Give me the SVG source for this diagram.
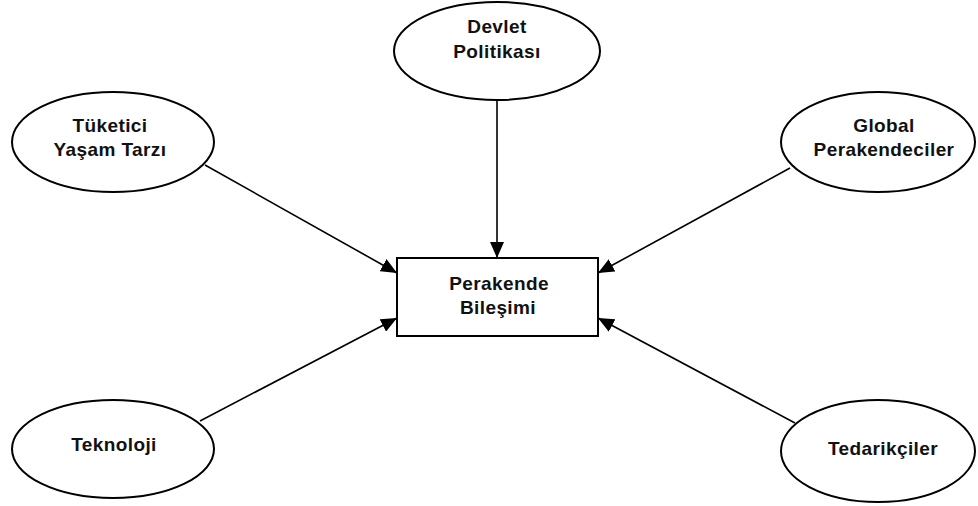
<svg xmlns="http://www.w3.org/2000/svg" width="978" height="506" viewBox="0 0 978 506">
<style>
.node ellipse,.node rect{fill:#fff;stroke:#000;stroke-width:2}
.node text{font-family:"Liberation Sans",Arial,sans-serif;font-weight:bold;font-size:19px;letter-spacing:0.4px;text-anchor:middle;fill:#111}
.edges line{stroke:#000;stroke-width:1.6;marker-end:url(#arr)}
</style>
<defs>
<marker id="arr" markerUnits="userSpaceOnUse" markerWidth="16" markerHeight="14" refX="16" refY="7" orient="auto">
<path d="M0,0 L16,7 L0,14 Z" fill="#000"/>
</marker>
</defs>
<rect width="978" height="506" fill="#fff"/>
<g class="edges">
<line x1="497" y1="100" x2="497" y2="258"/>
<line x1="205" y1="165" x2="397" y2="273"/>
<line x1="200" y1="421" x2="397" y2="318"/>
<line x1="790" y1="168" x2="598" y2="273"/>
<line x1="795" y1="423" x2="598" y2="318"/>
</g>
<g id="devlet" class="node">
<ellipse cx="497" cy="51" rx="103" ry="49"/>
<text x="497" y="33">Devlet</text>
<text x="497" y="58">Politikası</text>
</g>
<g id="tuketici" class="node">
<ellipse cx="113" cy="142" rx="101" ry="50"/>
<text x="110" y="132">Tüketici</text>
<text x="110" y="156">Yaşam Tarzı</text>
</g>
<g id="global" class="node">
<ellipse cx="878" cy="142" rx="97" ry="50"/>
<text x="884" y="132">Global</text>
<text x="884" y="156">Perakendeciler</text>
</g>
<g id="perakende" class="node">
<rect x="397" y="258" width="201" height="78"/>
<text x="499" y="290">Perakende</text>
<text x="498" y="314">Bileşimi</text>
</g>
<g id="teknoloji" class="node">
<ellipse cx="113" cy="449" rx="101" ry="49"/>
<text x="114" y="451">Teknoloji</text>
</g>
<g id="tedarikciler" class="node">
<ellipse cx="878" cy="451" rx="97" ry="51"/>
<text x="883" y="455">Tedarikçiler</text>
</g>
</svg>
